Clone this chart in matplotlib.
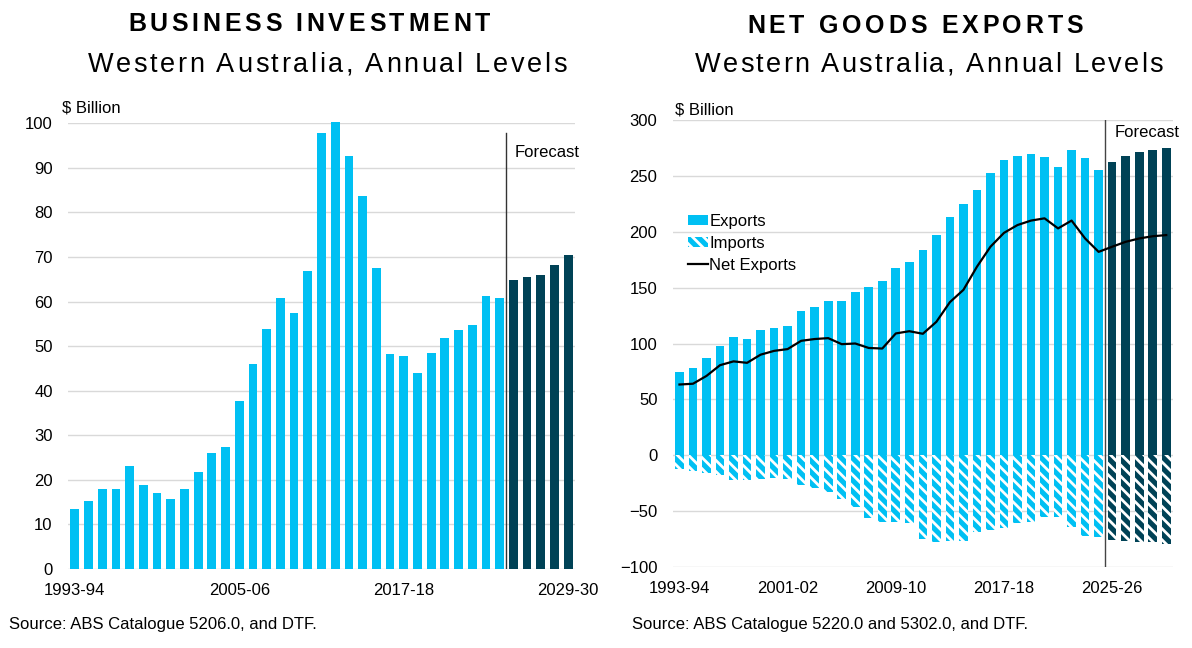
import numpy as np
import matplotlib
matplotlib.use('Agg')
import matplotlib.pyplot as plt
from matplotlib.patches import Patch
from matplotlib.lines import Line2D

plt.rcParams['font.family'] = ['Liberation Sans', 'DejaVu Sans']
plt.rcParams['hatch.linewidth'] = 2.0

# ---- data ----
years = ['1993-94', '1994-95', '1995-96', '1996-97', '1997-98', '1998-99', '1999-00',
         '2000-01', '2001-02', '2002-03', '2003-04', '2004-05', '2005-06', '2006-07',
         '2007-08', '2008-09', '2009-10', '2010-11', '2011-12', '2012-13', '2013-14',
         '2014-15', '2015-16', '2016-17', '2017-18', '2018-19', '2019-20', '2020-21',
         '2021-22', '2022-23', '2023-24', '2024-25', '2025-26', '2026-27', '2027-28',
         '2028-29', '2029-30']
n_actual = 32

invest_actual = [13.4, 15.3, 17.9, 17.9, 23.2, 18.9, 17.0, 15.7, 17.9, 21.8, 26.1, 27.4,
                 37.6, 45.9, 53.9, 60.7, 57.5, 66.9, 97.8, 100.2, 92.7, 83.8, 67.5, 48.3,
                 47.9, 43.9, 48.4, 51.8, 53.7, 54.7, 61.2, 60.7]
invest_forecast = [64.8, 65.5, 66.0, 68.3, 70.5]

exports_actual = [74.6, 78.5, 87, 98, 106, 104, 112.5, 114, 116, 129, 133, 138, 138, 146,
                  151, 156, 168, 172.5, 184, 197, 213, 225, 237, 252.5, 264, 268, 269.5,
                  267, 258, 273, 266, 255]
exports_forecast = [262.7, 268, 271, 273, 275]

imports_actual = [-12, -14, -15.5, -18, -22, -22, -21.5, -20, -21.5, -27, -29, -33, -39,
                  -46, -56, -60, -59.5, -61, -75, -78, -77, -77, -69, -67, -65, -61, -59.5,
                  -55, -55, -64, -72, -73]
imports_forecast = [-76, -77, -78, -78, -79]

net_exports = [63.3, 64, 71, 80.6, 84, 82.7, 90, 93.4, 95, 102.4, 104, 104.8, 99.4, 100,
               96, 95.5, 109, 111, 108.7, 119.4, 137, 148, 168.7, 186.6, 199, 206, 210,
               212, 203, 210, 194, 182, 186.6, 191, 194, 196, 197]

left_ticks = ['1993-94', '2005-06', '2017-18', '2029-30']
right_ticks = ['1993-94', '2001-02', '2009-10', '2017-18', '2025-26']

LIGHT = '#00C0F3'
DARK = '#004256'
GRID = '#D9D9D9'
HATCH = '\\\\\\'

W, H = 1192, 648
fig = plt.figure(figsize=(W / 100, H / 100), dpi=100)

x_act = np.arange(n_actual)
x_fc = np.arange(n_actual, len(years))
x_all = np.arange(len(years))
bw = 0.64


def style_axes(ax, ymin, ymax, step):
    for s in ax.spines.values():
        s.set_visible(False)
    ax.set_ylim(ymin, ymax)
    ax.set_yticks(np.arange(ymin, ymax + step / 2, step))
    ax.set_xlim(-0.5, len(years) - 0.5)
    ax.yaxis.grid(True, color=GRID, lw=1)
    ax.set_axisbelow(True)
    ax.tick_params(axis='y', length=0, pad=11, labelsize=12)
    ax.tick_params(axis='x', length=0, pad=10, labelsize=12)


def spaced(x_mid, y_base, s, size, weight, width):
    # letter-spaced heading, stretched to the given pixel width
    r = fig.canvas.get_renderer()
    parts = []
    for ch in s:
        if ch == ' ':
            parts.append((None, size * 100 / 72 * 0.278))
        else:
            t = fig.text(0, 1 - y_base / H, ch, fontsize=size, fontweight=weight,
                         va='baseline', ha='left')
            parts.append((t, t.get_window_extent(r).width))
    gap = (width - sum(w for _, w in parts)) / (len(s) - 1)
    x = x_mid - width / 2
    for t, w in parts:
        if t is not None:
            t.set_x(x / W)
        x += w + gap


# ---- left: business investment ----
ax1 = fig.add_axes([68 / W, 1 - 569 / H, (575 - 68) / W, (569 - 123.3) / H])
style_axes(ax1, 0, 100, 10)
ax1.bar(x_act, invest_actual, width=bw, color=LIGHT, clip_on=False, zorder=2)
ax1.bar(x_fc, invest_forecast, width=bw, color=DARK, clip_on=False, zorder=2)
ax1.plot([n_actual - 0.5, n_actual - 0.5], [0, 97.8], color='#333333', lw=1, zorder=3)
ax1.text(n_actual + 0.1, 93.5, 'Forecast', fontsize=12, va='center', ha='left')
ax1.set_xticks([years.index(t) for t in left_ticks])
ax1.set_xticklabels(left_ticks)

# ---- right: net goods exports ----
ax2 = fig.add_axes([672.7 / W, 1 - 567 / H, (1173 - 672.7) / W, (567 - 120) / H])
style_axes(ax2, -100, 300, 50)
ax2.bar(x_act, exports_actual, width=bw, color=LIGHT, zorder=2)
ax2.bar(x_fc, exports_forecast, width=bw, color=DARK, zorder=2)
ax2.bar(x_act, imports_actual, width=bw, color=LIGHT, edgecolor='white', hatch=HATCH,
        linewidth=0, zorder=2)
ax2.bar(x_fc, imports_forecast, width=bw, color=DARK, edgecolor='white', hatch=HATCH,
        linewidth=0, zorder=2)
ax2.plot(x_all, net_exports, color='black', lw=1.6, zorder=4)
ax2.plot([n_actual - 0.5, n_actual - 0.5], [-100, 300], color='#444444', lw=1, zorder=3)
ax2.text(n_actual + 0.2, 289, 'Forecast', fontsize=12, va='center', ha='left')
ax2.set_xticks([years.index(t) for t in right_ticks])
ax2.set_xticklabels(right_ticks)

handles = [Patch(facecolor=LIGHT, linewidth=0),
           Patch(facecolor=LIGHT, edgecolor='white', hatch=HATCH, linewidth=0),
           Line2D([0], [0], color='black', lw=1.6)]
ax2.legend(handles, ['Exports', 'Imports', 'Net Exports'], loc='upper left',
           bbox_to_anchor=(0.03, 0.79), frameon=False, fontsize=12, borderpad=0,
           borderaxespad=0, handlelength=1.2, handleheight=0.6, handletextpad=0.1,
           labelspacing=0.42)

# ---- titles and notes ----
spaced(309, 31, 'BUSINESS INVESTMENT', 18, 'bold', 362)
spaced(327, 72, 'Western Australia, Annual Levels', 19.5, 'normal', 479)
spaced(915, 33, 'NET GOODS EXPORTS', 18, 'bold', 336)
spaced(929, 72, 'Western Australia, Annual Levels', 19.5, 'normal', 468)

fig.text(62 / W, 1 - 108 / H, '$ Billion', fontsize=12, va='center', ha='left')
fig.text(675 / W, 1 - 110 / H, '$ Billion', fontsize=12, va='center', ha='left')
fig.text(9 / W, 1 - 629 / H, 'Source: ABS Catalogue 5206.0, and DTF.', fontsize=12,
         va='baseline', ha='left')
fig.text(632 / W, 1 - 629 / H, 'Source: ABS Catalogue 5220.0 and 5302.0, and DTF.',
         fontsize=12, va='baseline', ha='left')

fig.savefig('out.png', dpi=100)
